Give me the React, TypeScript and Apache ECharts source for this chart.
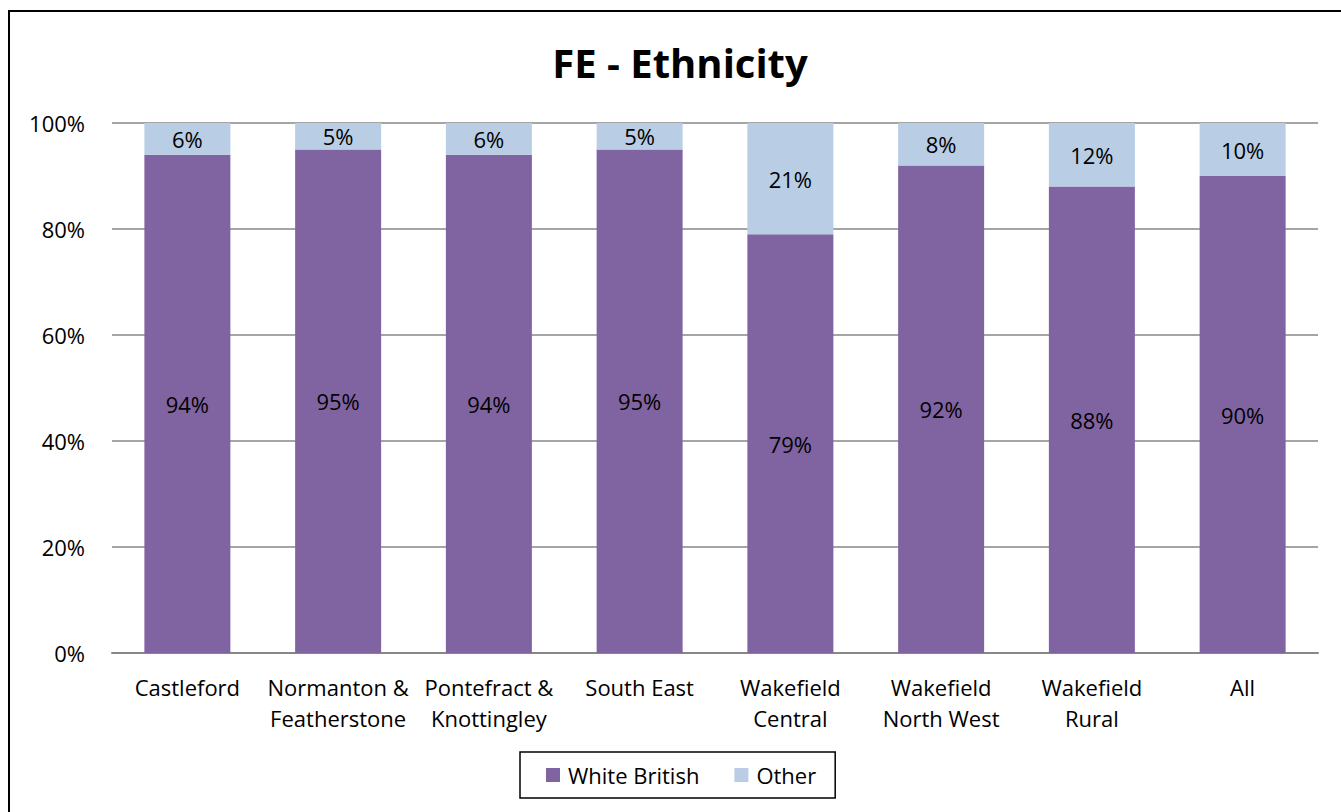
import React, { useEffect, useRef } from "react";
import * as echarts from "echarts";

const categories = [
  "Castleford",
  "Normanton &\nFeatherstone",
  "Pontefract &\nKnottingley",
  "South East",
  "Wakefield\nCentral",
  "Wakefield\nNorth West",
  "Wakefield\nRural",
  "All",
];
const whiteBritish = [94, 95, 94, 95, 79, 92, 88, 90];
const other = [6, 5, 6, 5, 21, 8, 12, 10];
const yTicks = [0, 20, 40, 60, 80, 100];

const FONT = "Open Sans";
const FS = 22;

export default function App() {
  const ref = useRef<HTMLDivElement>(null);
  useEffect(() => {
    document.body.style.margin = "0";
    const chart = echarts.init(ref.current!, null, { renderer: "svg" });
    chart.setOption({
      animation: false,
      backgroundColor: "#ffffff",
      textStyle: { fontFamily: FONT },
      title: {
        text: "FE - Ethnicity",
        left: 675,
        top: 37,
        textAlign: "center",
        textStyle: { fontSize: 40, fontWeight: "bold", color: "#000", fontFamily: FONT },
      },
      legend: {
        left: 520,
        top: 752,
        orient: "horizontal",
        icon: "rect",
        itemWidth: 14,
        itemHeight: 14,
        itemGap: 35,
        padding: [12, 19, 12, 26],
        borderColor: "#000",
        borderWidth: 1.5,
        textStyle: { fontSize: FS, color: "#000", fontFamily: FONT, padding: [0, 0, 0, 3] },
        data: ["White British", "Other"],
      },
      grid: { left: 112, right: 23, top: 123, bottom: 159 },
      xAxis: {
        type: "category",
        data: categories,
        axisLine: { show: true, lineStyle: { color: "#878787", width: 2 } },
        axisTick: { show: false },
        axisLabel: {
          interval: 0,
          fontSize: FS,
          color: "#000",
          lineHeight: 31,
          margin: 18,
          fontFamily: FONT,
        },
      },
      yAxis: {
        type: "value",
        min: yTicks[0],
        max: yTicks[yTicks.length - 1],
        interval: 20,
        axisLine: { show: false },
        axisTick: { show: false },
        splitLine: { lineStyle: { color: "#878787", width: 1.5 } },
        axisLabel: {
          formatter: "{value}%",
          fontSize: FS,
          color: "#000",
          margin: 27,
          fontFamily: FONT,
        },
      },
      series: [
        {
          name: "White British",
          type: "bar",
          stack: "total",
          barWidth: 86,
          data: whiteBritish,
          itemStyle: { color: "#8064A2" },
          label: {
            show: true,
            position: "inside",
            formatter: "{c}%",
            fontSize: FS,
            color: "#000",
            fontFamily: FONT,
          },
        },
        {
          name: "Other",
          type: "bar",
          stack: "total",
          barWidth: 86,
          data: other,
          itemStyle: { color: "#B9CDE5" },
          label: {
            show: true,
            position: "inside",
            formatter: "{c}%",
            fontSize: FS,
            color: "#000",
            fontFamily: FONT,
          },
        },
      ],
      graphic: [
        {
          type: "rect",
          shape: { x: 9, y: 11, width: 1340, height: 810 },
          style: { fill: "none", stroke: "#000", lineWidth: 2 },
          silent: true,
        },
      ],
    });
    return () => chart.dispose();
  }, []);
  return (
    <div
      ref={ref}
      style={{ position: "absolute", left: 0, top: 0, width: 1341, height: 812 }}
    />
  );
}
